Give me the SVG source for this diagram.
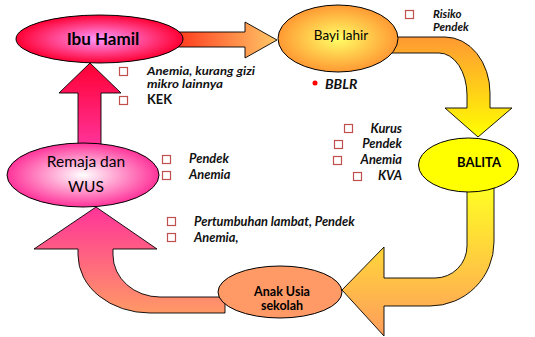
<svg xmlns="http://www.w3.org/2000/svg" width="535" height="337" viewBox="0 0 535 337">
<defs>
  <linearGradient id="gA1" gradientUnits="userSpaceOnUse" x1="180" y1="0" x2="277" y2="0">
    <stop offset="0" stop-color="#FF3F1F"/><stop offset="1" stop-color="#FFC868"/>
  </linearGradient>
  <linearGradient id="gA2" gradientUnits="userSpaceOnUse" x1="0" y1="37" x2="0" y2="137">
    <stop offset="0" stop-color="#FF9933"/><stop offset="1" stop-color="#FFFF00"/>
  </linearGradient>
  <linearGradient id="gA3" gradientUnits="userSpaceOnUse" x1="0" y1="185" x2="0" y2="336">
    <stop offset="0" stop-color="#FFFF22"/><stop offset="1" stop-color="#FF9C5C"/>
  </linearGradient>
  <linearGradient id="gA4" gradientUnits="userSpaceOnUse" x1="0" y1="207" x2="0" y2="313">
    <stop offset="0" stop-color="#FF3399"/><stop offset="1" stop-color="#FF9966"/>
  </linearGradient>
  <linearGradient id="gA5" gradientUnits="userSpaceOnUse" x1="0" y1="63" x2="0" y2="145">
    <stop offset="0" stop-color="#FF0033"/><stop offset="1" stop-color="#FF3399"/>
  </linearGradient>
  <radialGradient id="gIbu" cx="0.5" cy="0.5" r="0.5">
    <stop offset="0" stop-color="#FF99FF"/><stop offset="1" stop-color="#FF0033"/>
  </radialGradient>
  <radialGradient id="gBayi" cx="0.5" cy="0.5" r="0.5">
    <stop offset="0" stop-color="#FFFF66"/><stop offset="1" stop-color="#FF9933"/>
  </radialGradient>
  <radialGradient id="gRem" cx="0.5" cy="0.5" r="0.5">
    <stop offset="0" stop-color="#FFFFFF"/><stop offset="1" stop-color="#FF3399"/>
  </radialGradient>
  <style>
    .arrow { stroke: #000; stroke-width: 0.9; stroke-linejoin: miter; }
    .node { stroke: #000; stroke-width: 1; }
    .lbl { font-family: Lato, "Open Sans", sans-serif; fill: #000; }
    .note { font-family: Lato, "Open Sans", sans-serif; font-size: 12.8px; font-style: italic; font-weight: bold; fill: #111; }
    .up { font-style: normal; }
    .sm { font-size: 11.5px; }
    .big { font-size: 14px; }
    .sq { fill: none; stroke: #C0504D; stroke-width: 1.2; }
  </style>
</defs>
<rect width="535" height="337" fill="#FFFFFF"/>
<g id="connectors">
  <path class="arrow" fill="url(#gA1)" d="M175,32 L245,32 L245,22 L277,40 L245,58 L245,47 L175,47 Z"/>
  <path class="arrow" fill="url(#gA2)" d="M392,37 L445,37 A45,56 0 0 1 490,93 L490,108 L512,108 L478,137 L445,108 L467,108 L467,95 A28,42 0 0 0 439,53 L392,53 Z"/>
  <path class="arrow" fill="url(#gA3)" d="M467,185 L494,185 L494,242 A64,64 0 0 1 430,306 L384,306 L384,336 L342,290 L384,247 L384,278 L435,278 A32,32 0 0 0 467,246 Z"/>
  <path class="arrow" fill="url(#gA4)" d="M225,297 L160,297 A47,42 0 0 1 113,255 L113,249 L157,249 L96,207 L34,249 L78,249 L78,255 A72,58 0 0 0 150,313 L225,313 Z"/>
  <path class="arrow" fill="url(#gA5)" d="M78,148 L78,93 L59,93 L90,63 L121,93 L101,93 L101,148 Z"/>
</g>
<g id="ibu-hamil">
  <ellipse class="node" cx="99.5" cy="39" rx="83.5" ry="24" fill="url(#gIbu)"/>
  <text class="lbl" x="103" y="45" font-size="17" font-weight="bold" text-anchor="middle">Ibu Hamil</text>
</g>
<g id="bayi-lahir">
  <ellipse class="node" cx="338" cy="38.5" rx="60" ry="33.5" fill="url(#gBayi)"/>
  <text class="lbl" x="341" y="40" font-size="13.5" text-anchor="middle">Bayi lahir</text>
</g>
<g id="balita">
  <ellipse class="node" cx="468.5" cy="165" rx="50" ry="27" fill="#FFFF00"/>
  <text class="lbl" x="479" y="167" font-size="13" font-weight="bold" text-anchor="middle">BALITA</text>
</g>
<g id="anak-usia">
  <ellipse class="node" cx="280" cy="292" rx="62" ry="26" fill="#FF9966"/>
  <text class="lbl" x="282" y="296" font-size="12.5" font-weight="bold" text-anchor="middle">Anak Usia</text>
  <text class="lbl" x="282" y="310" font-size="12.5" font-weight="bold" text-anchor="middle">sekolah</text>
</g>
<g id="remaja">
  <ellipse class="node" cx="83" cy="175" rx="76" ry="32" fill="url(#gRem)"/>
  <text class="lbl" x="86" y="167" font-size="15.5" text-anchor="middle">Remaja dan</text>
  <text class="lbl" x="86" y="192" font-size="15.5" text-anchor="middle">WUS</text>
</g>
<g id="notes">
  <rect class="sq" x="119.5" y="67.5" width="8" height="8"/>
  <text class="note sm" x="147" y="74.5" textLength="108" lengthAdjust="spacingAndGlyphs">Anemia, kurang gizi</text>
  <text class="note sm" x="147" y="88" textLength="76" lengthAdjust="spacingAndGlyphs">mikro lainnya</text>
  <rect class="sq" x="119.5" y="96.5" width="8" height="8"/>
  <text class="note up" x="147" y="104">KEK</text>

  <rect class="sq" x="405.5" y="10.5" width="8" height="8"/>
  <text class="note sm" x="433" y="17.5">Risiko</text>
  <text class="note sm" x="433" y="31">Pendek</text>

  <circle cx="315" cy="83" r="2.5" fill="#FF0000"/>
  <text class="note big" x="325" y="89">BBLR</text>

  <rect class="sq" x="344.5" y="124.5" width="8" height="8"/>
  <text class="note" x="402" y="133" text-anchor="end">Kurus</text>
  <rect class="sq" x="334.5" y="140.5" width="8" height="8"/>
  <text class="note" x="402" y="148" text-anchor="end">Pendek</text>
  <rect class="sq" x="333.5" y="156.5" width="8" height="8"/>
  <text class="note" x="402" y="164" text-anchor="end">Anemia</text>
  <rect class="sq" x="353.5" y="172.5" width="8" height="8"/>
  <text class="note" x="402" y="180" text-anchor="end">KVA</text>

  <rect class="sq" x="162.5" y="155.5" width="8" height="8"/>
  <text class="note" x="189" y="163">Pendek</text>
  <rect class="sq" x="162.5" y="171.5" width="8" height="8"/>
  <text class="note" x="189" y="179">Anemia</text>

  <rect class="sq" x="167.5" y="217.5" width="8" height="8"/>
  <text class="note" x="194" y="226">Pertumbuhan lambat, Pendek</text>
  <rect class="sq" x="167.5" y="233.5" width="8" height="8"/>
  <text class="note" x="194" y="242">Anemia,</text>
</g>
</svg>
